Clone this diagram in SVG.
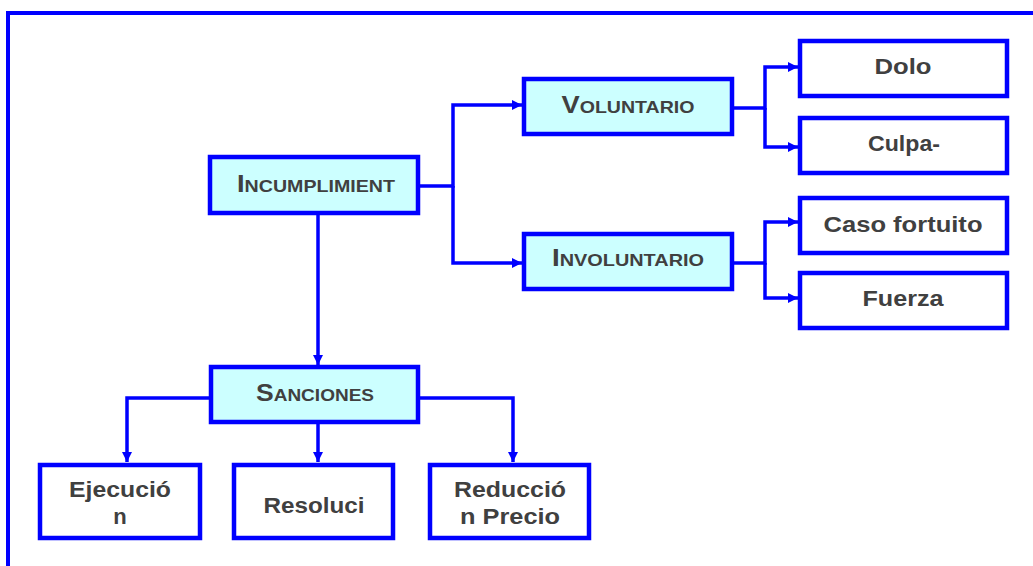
<svg xmlns="http://www.w3.org/2000/svg" width="1033" height="566" viewBox="0 0 1033 566">
<defs>
<style>
.box{stroke:#0000FF;stroke-width:4.5;}
.main{fill:#CCFFFF;}
.leaf{fill:#FFFFFF;}
.con{fill:none;stroke:#0000FF;stroke-width:3.5;}
.t{font-family:"Liberation Sans",Arial,sans-serif;font-weight:bold;fill:#404040;text-anchor:middle;}
.big{font-size:23px;}
.sc{font-size:16.5px;}
.lt{font-size:22px;}
</style>
<marker id="ah" viewBox="0 0 10 10" refX="10" refY="5" markerWidth="10" markerHeight="10" markerUnits="userSpaceOnUse" orient="auto">
<path d="M0,0 L10,5 L0,10 Z" fill="#0000FF"/>
</marker>
</defs>
<rect width="1033" height="566" fill="#FFFFFF"/>
<path d="M8,566 V13 H1033" fill="none" stroke="#0000FF" stroke-width="4"/>

<g id="connectors">
<path class="con" d="M419,186 H453 V105 H522" marker-end="url(#ah)"/>
<path class="con" d="M453,186 V263 H522" marker-end="url(#ah)"/>
<path class="con" d="M733,108 H765 V67 H798" marker-end="url(#ah)"/>
<path class="con" d="M765,108 V147 H798" marker-end="url(#ah)"/>
<path class="con" d="M733,263 H765 V222 H798" marker-end="url(#ah)"/>
<path class="con" d="M765,263 V298 H798" marker-end="url(#ah)"/>
<path class="con" d="M318,214 V365" marker-end="url(#ah)"/>
<path class="con" d="M210,398 H127 V462" marker-end="url(#ah)"/>
<path class="con" d="M318,424 V462" marker-end="url(#ah)"/>
<path class="con" d="M420,398 H513 V462" marker-end="url(#ah)"/>
</g>

<g id="incumplimiento">
<rect class="box main" x="210" y="157" width="208" height="56"/>
<text class="t" x="316" y="192" textLength="158" lengthAdjust="spacingAndGlyphs"><tspan class="big">I</tspan><tspan class="sc">NCUMPLIMIENT</tspan></text>
</g>
<g id="voluntario">
<rect class="box main" x="524" y="79" width="208" height="55"/>
<text class="t" x="628" y="113" textLength="133" lengthAdjust="spacingAndGlyphs"><tspan class="big">V</tspan><tspan class="sc">OLUNTARIO</tspan></text>
</g>
<g id="involuntario">
<rect class="box main" x="524" y="234" width="208" height="55"/>
<text class="t" x="628" y="266" textLength="152" lengthAdjust="spacingAndGlyphs"><tspan class="big">I</tspan><tspan class="sc">NVOLUNTARIO</tspan></text>
</g>
<g id="dolo">
<rect class="box leaf" x="800" y="41" width="207" height="55"/>
<text class="t lt" x="903" y="74" textLength="57" lengthAdjust="spacingAndGlyphs">Dolo</text>
</g>
<g id="culpa">
<rect class="box leaf" x="800" y="118" width="207" height="55"/>
<text class="t lt" x="904" y="151" textLength="72" lengthAdjust="spacingAndGlyphs">Culpa-</text>
</g>
<g id="caso-fortuito">
<rect class="box leaf" x="800" y="198" width="207" height="55"/>
<text class="t lt" x="903" y="232" textLength="159" lengthAdjust="spacingAndGlyphs">Caso fortuito</text>
</g>
<g id="fuerza">
<rect class="box leaf" x="800" y="273" width="207" height="55"/>
<text class="t lt" x="903" y="306" textLength="81" lengthAdjust="spacingAndGlyphs">Fuerza</text>
</g>
<g id="sanciones">
<rect class="box main" x="211" y="367" width="207" height="55"/>
<text class="t" x="315" y="401" textLength="118" lengthAdjust="spacingAndGlyphs"><tspan class="big">S</tspan><tspan class="sc">ANCIONES</tspan></text>
</g>
<g id="ejecucion">
<rect class="box leaf" x="40" y="465" width="160" height="73"/>
<text class="t lt" x="120" y="497" textLength="102" lengthAdjust="spacingAndGlyphs">Ejecució</text>
<text class="t lt" x="120" y="524">n</text>
</g>
<g id="resolucion">
<rect class="box leaf" x="234" y="465" width="159" height="73"/>
<text class="t lt" x="314" y="513" textLength="101" lengthAdjust="spacingAndGlyphs">Resoluci</text>
</g>
<g id="reduccion">
<rect class="box leaf" x="430" y="465" width="159" height="73"/>
<text class="t lt" x="510" y="497" textLength="112" lengthAdjust="spacingAndGlyphs">Reducció</text>
<text class="t lt" x="510" y="524" textLength="100" lengthAdjust="spacingAndGlyphs">n Precio</text>
</g>
</svg>
